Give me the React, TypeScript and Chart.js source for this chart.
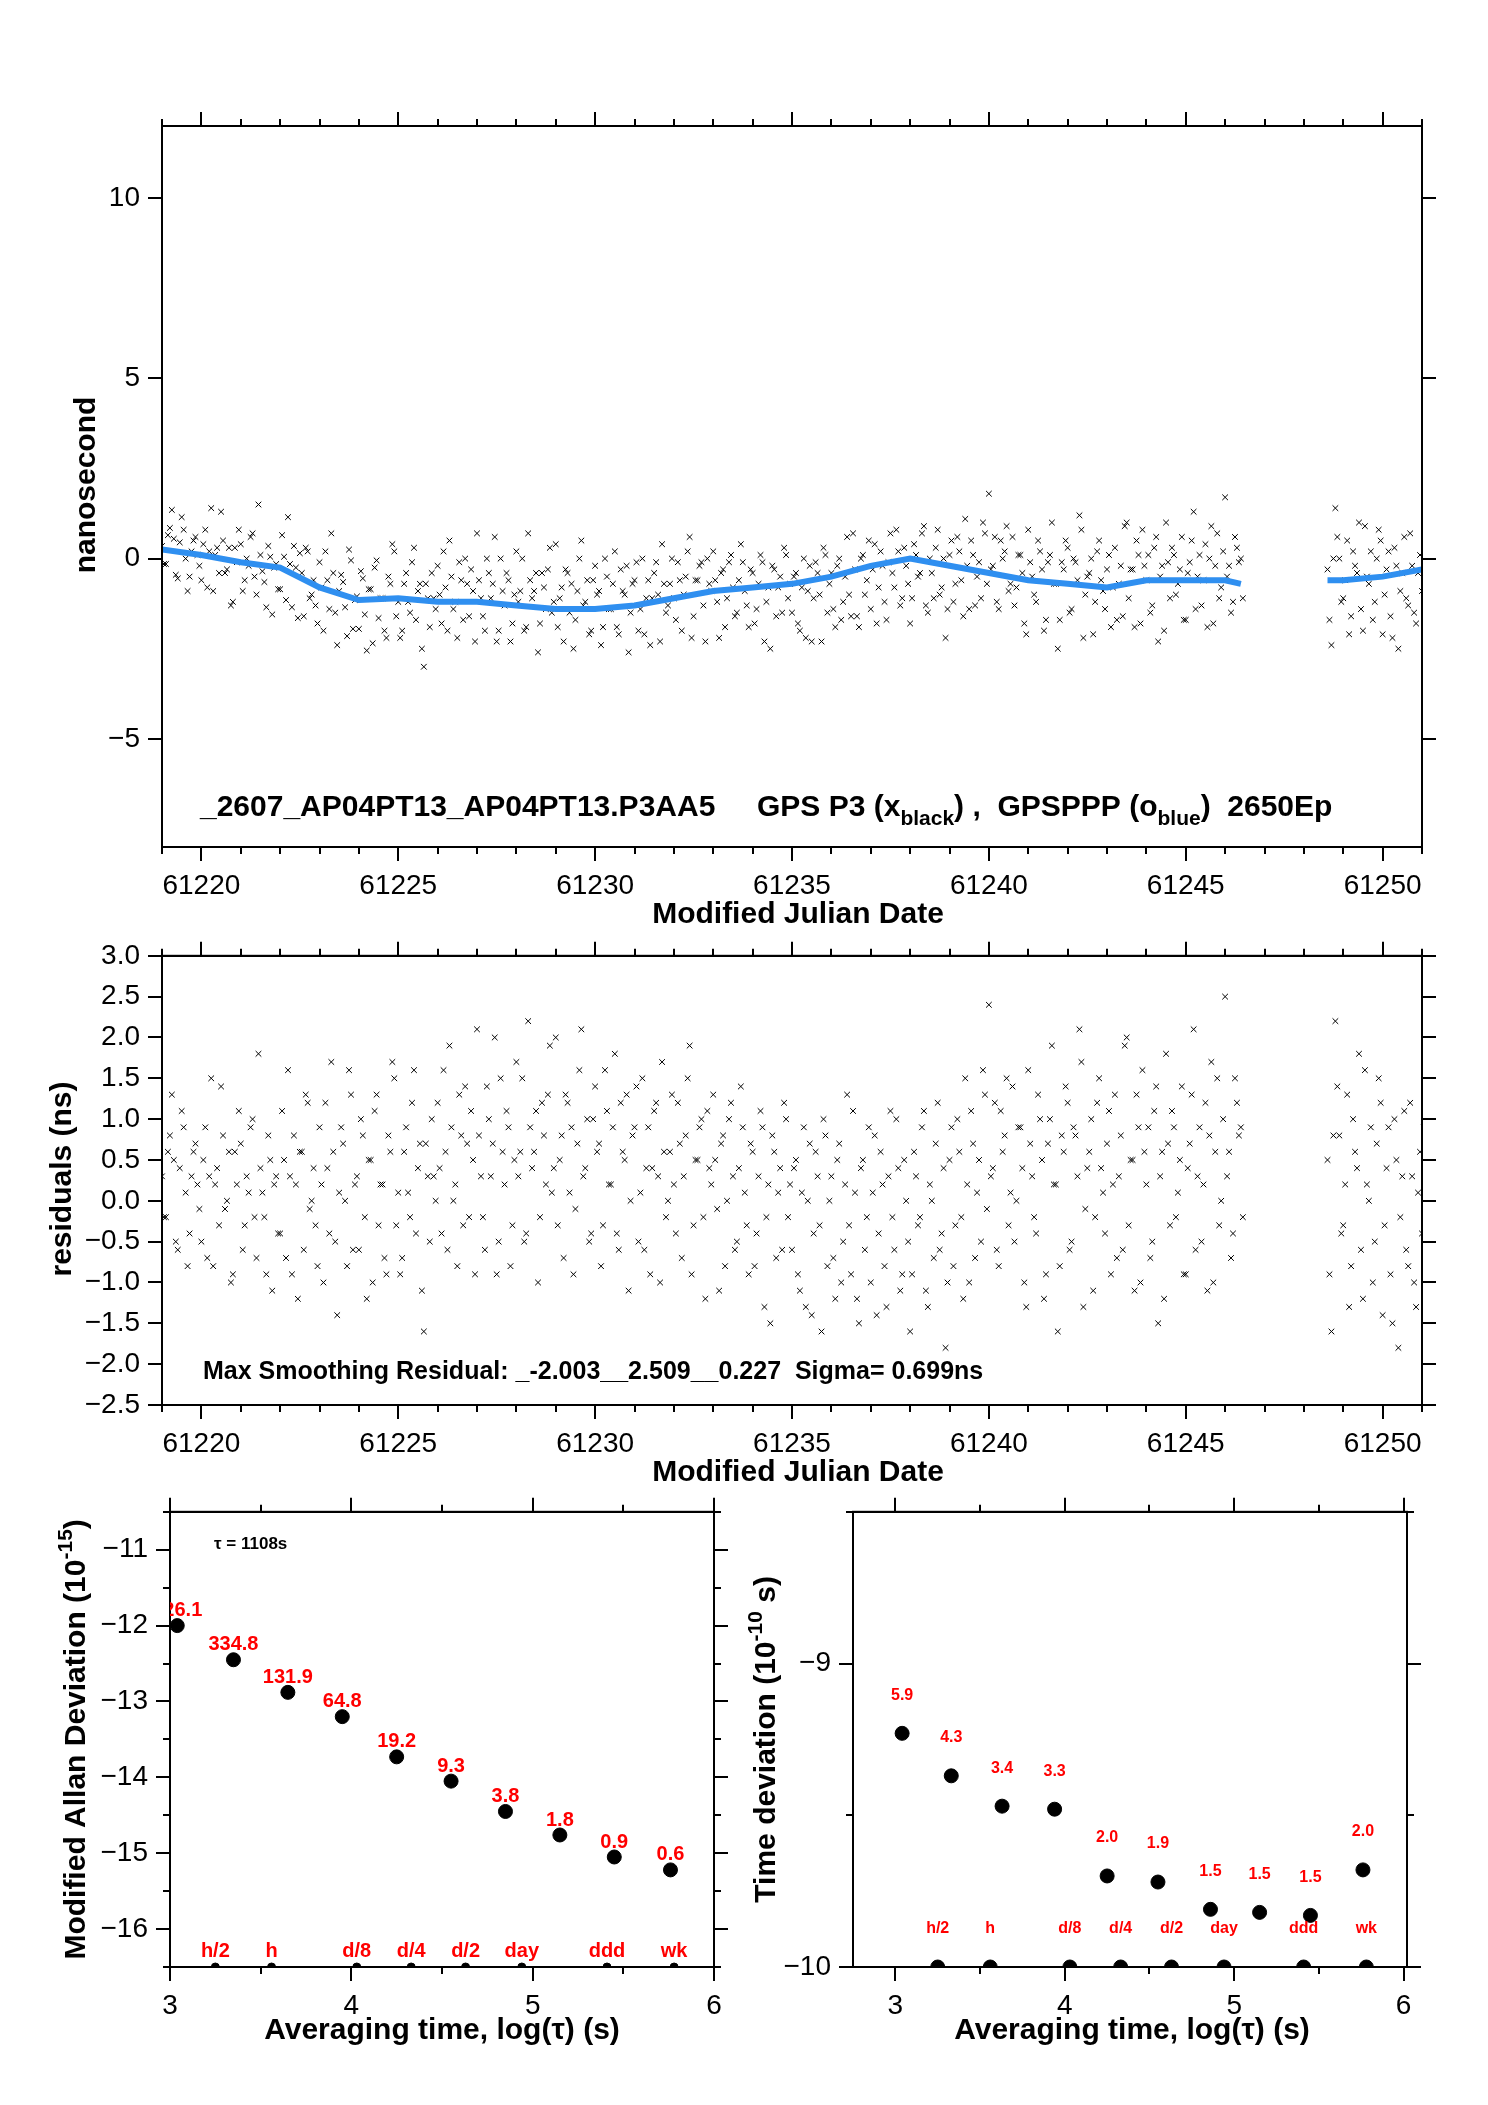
import React, { useEffect, useRef } from "react";
import { Chart, registerables } from "chart.js";
Chart.register(...registerables);

const FONT = "'Liberation Sans', Arial, sans-serif";

// Smoothed (blue) curve: daily knots
const blueDays = [61219,61220,61221,61222,61223,61224,61225,61226,61227,61228,61229,61230,61231,61232,61233,61234,61235,61236,61237,61238,61239,61240,61241,61242,61243,61244,61245,61246,61246.4,null,61248.6,61249,61250,61251];
const blueVals = [0.25,0.1,-0.1,-0.25,-0.8,-1.15,-1.1,-1.2,-1.2,-1.3,-1.4,-1.4,-1.3,-1.1,-0.9,-0.8,-0.7,-0.5,-0.2,0.0,-0.2,-0.4,-0.6,-0.7,-0.8,-0.6,-0.6,-0.6,-0.7,null,-0.6,-0.6,-0.5,-0.3];

// Residuals, segment 1 every 0.1 day from 61219.0
const residA = [
0.3,-0.2,0.8,0.5,-0.6,1.1,0.1,-0.4,0.6,0.2,
-0.5,0.9,0.3,-0.8,0.4,1.4,-0.1,0.6,-0.9,0.2,
0.7,-0.3,0.1,1.0,-0.7,0.4,-0.2,0.8,-1.1,0.3,
-0.4,0.5,1.6,-0.9,0.2,0.6,-0.6,1.2,0.0,-0.3,
0.9,-1.0,0.4,1.7,-0.5,0.1,0.7,-0.8,1.3,0.2,
-0.6,0.8,-1.2,0.5,1.1,-0.3,0.2,-0.9,0.6,1.5,
0.1,-0.7,0.9,-0.2,1.6,0.4,-1.1,0.7,-0.5,0.3,
1.2,-0.4,0.6,1.9,0.0,-0.8,0.8,1.4,-0.2,0.5,
2.1,0.3,-0.6,1.0,0.7,-0.9,1.5,0.2,0.9,-0.3,
1.7,0.6,-0.5,2.2,0.4,1.1,-0.2,0.8,1.3,0.1,
2.0,0.5,-0.7,1.2,0.9,-0.1,1.6,0.3,1.0,-0.4,
1.4,0.7,-0.3,1.1,0.2,1.8,-0.6,0.6,1.3,0.0,
0.9,-0.5,1.5,0.4,-0.9,1.1,0.3,1.7,-0.2,0.6,
0.2,1.2,-0.7,0.8,1.9,-0.3,0.5,1.0,-1.2,0.4,
1.3,-0.1,0.7,-0.8,1.0,0.3,-0.5,1.4,0.1,-0.9,
0.6,-0.4,1.1,-1.3,0.2,0.8,-0.7,0.4,1.2,-0.2,
-0.6,0.5,-1.1,0.9,0.0,-1.4,0.6,-0.3,1.0,-0.8,
0.3,-1.2,0.7,-0.5,1.3,-0.9,0.1,-1.5,0.5,-0.2,
-1.0,0.8,-0.4,0.2,-1.3,1.1,-0.6,0.4,-0.9,0.0,
-1.6,0.6,-0.3,0.9,-1.1,0.2,-0.7,1.2,-0.4,-1.8,
0.5,-0.8,1.0,-0.2,1.5,-1.0,0.7,0.1,-0.5,1.3,
2.4,0.4,-0.6,1.1,0.8,-0.3,1.4,0.0,0.9,-1.0,
1.6,0.3,-0.4,1.0,-1.2,0.7,1.9,0.2,-0.8,0.6,
1.2,-0.5,0.8,2.1,-1.3,0.4,1.0,-0.2,1.5,0.1,
0.7,-0.9,1.3,0.3,-0.6,2.0,0.5,-1.1,0.9,1.6,
0.2,-0.7,1.1,-1.5,0.6,1.8,-0.3,0.9,0.1,1.4,
-0.9,0.7,2.1,0.3,-0.5,1.2,0.8,-1.0,1.5,0.0,
2.5,0.6,-0.4,1.2,0.9];
// Residuals, segment 1 every 0.1 day from 61219.05
const residC = [
-0.2,0.6,1.3,-0.5,0.4,0.9,-0.8,0.3,0.7,-0.1,
0.5,-0.7,1.5,0.2,-0.3,0.8,0.0,-1.0,0.6,1.1,
-0.6,0.3,0.9,-0.2,1.8,0.1,-0.9,0.5,0.2,-0.4,
1.1,-0.7,0.3,0.8,-1.2,0.6,1.3,-0.1,0.4,-0.8,
0.2,1.2,-0.4,0.6,-1.4,0.9,0.0,1.6,-0.6,0.3,
1.0,-0.2,0.5,-1.0,1.3,0.2,-0.7,0.8,1.7,-0.3,
-0.9,0.6,0.1,1.2,-0.4,0.7,-1.6,0.3,1.0,0.0,
0.4,1.6,-0.6,0.9,0.2,1.3,-0.3,0.7,1.1,-0.9,
0.8,-0.2,1.4,0.3,2.0,-0.5,0.6,1.1,-0.8,0.5,
0.3,1.5,-0.4,0.9,0.6,-1.0,1.2,0.2,1.9,0.4,
-0.3,0.8,1.3,0.1,-0.9,0.7,2.1,0.4,-0.5,1.0,
0.6,-0.8,1.6,0.2,0.9,-0.4,1.2,0.5,-1.1,0.8,
1.4,0.1,-0.6,0.9,0.4,1.2,-1.0,0.6,0.0,1.3,
-0.4,0.7,0.3,1.5,-0.9,0.5,0.9,-0.2,1.1,0.2,
0.5,-1.1,0.8,0.0,1.2,-0.6,0.4,0.9,-0.3,0.7,
-0.8,0.3,0.9,-0.2,-1.5,0.6,0.1,-0.6,1.0,0.2,
0.4,-0.9,0.1,-1.3,0.7,-0.4,0.3,-1.6,0.8,0.0,
-0.7,0.5,-1.0,0.2,-0.3,1.1,-1.2,0.4,-0.6,0.9,
0.1,-1.4,0.6,-0.8,0.3,-0.2,1.0,-1.1,0.5,-0.5,
-0.9,0.3,-0.2,1.1,-1.3,0.0,0.7,-0.6,0.4,-1.0,
0.9,-0.3,0.6,-1.2,0.2,1.1,-0.7,0.5,1.6,-0.1,
0.3,1.2,-0.8,0.6,1.5,0.1,-0.5,0.9,0.4,-1.3,
0.7,-0.2,1.3,0.5,-0.9,1.0,0.2,-1.6,0.8,1.4,
-0.6,0.9,0.3,1.7,-0.1,0.6,-1.1,1.2,0.4,-0.4,
1.1,0.2,-0.7,0.8,1.9,-0.3,0.5,1.3,-1.0,0.6,
0.9,-0.5,1.4,0.3,-1.2,0.7,1.1,-0.2,0.5,-0.9,
0.4,1.3,-0.6,0.9,0.2,-1.1,1.7,0.6,-0.3,1.0,
0.3,-0.7,1.5,0.8,-0.2];
// Segment 2 every 0.1 day from 61248.6 (and 61248.65)
const residB = [0.5,-1.6,2.2,0.8,-0.3,1.3,-0.8,0.6,1.8,-1.2,0.2,0.9,-0.5,1.5,-1.4,0.4,-0.9,1.0,-1.8,0.3,-0.6,1.2,-1.0,0.1,-0.4];
const residD = [-0.9,0.8,1.4,-0.4,0.2,-1.3,1.0,0.4,-0.6,1.6,0.0,-1.0,0.7,1.2,-0.3,0.9,-1.5,0.5,-0.2,1.1,-0.8,0.3,-1.3,0.6,0.9];

const mjdMajor = [61220,61225,61230,61235,61240,61245,61250];
const mjdMinor = [61219,61221,61222,61223,61224,61226,61227,61228,61229,61231,61232,61233,61234,61236,61237,61238,61239,61241,61242,61243,61244,61246,61247,61248,61249,61251];

// Allan deviation
const adevX = [3.04,3.35,3.65,3.95,4.25,4.55,4.85,5.15,5.45,5.76];
const adevY = [-12.0,-12.45,-12.88,-13.2,-13.73,-14.05,-14.45,-14.76,-15.05,-15.22];
const adevLbl = ["526.1","334.8","131.9","64.8","19.2","9.3","3.8","1.8","0.9","0.6"];
// Time deviation
const tdevX = [3.04,3.33,3.63,3.94,4.25,4.55,4.86,5.15,5.45,5.76];
const tdevY = [-9.23,-9.37,-9.47,-9.48,-9.70,-9.72,-9.81,-9.82,-9.83,-9.68];
const tdevLbl = ["5.9","4.3","3.4","3.3","2.0","1.9","1.5","1.5","1.5","2.0"];
// Reference intervals
const refX = [3.25,3.56,4.03,4.33,4.63,4.94,5.41,5.78];
const refLbl = ["h/2","h","d/8","d/4","d/2","day","ddd","wk"];

type Part = { t: string; sub?: boolean; sup?: boolean };
function drawRich(ctx: CanvasRenderingContext2D, parts: Part[], x: number, y: number, size: number, rot = 0, center = false) {
  ctx.save();
  ctx.translate(x, y);
  ctx.rotate(rot);
  ctx.textBaseline = "alphabetic";
  ctx.textAlign = "left";
  ctx.fillStyle = "#000";
  const fonts = parts.map(p => `bold ${p.sub || p.sup ? Math.round(size * 0.7) : size}px ${FONT}`);
  let total = 0;
  parts.forEach((p, i) => { ctx.font = fonts[i]; total += ctx.measureText(p.t).width; });
  let cx = center ? -total / 2 : 0;
  parts.forEach((p, i) => {
    ctx.font = fonts[i];
    const dy = p.sub ? size * 0.3 : p.sup ? -size * 0.45 : 0;
    ctx.fillText(p.t, cx, dy);
    cx += ctx.measureText(p.t).width;
  });
  ctx.restore();
}

const fit = (w?: number, h?: number) => (s: any) => { if (w !== undefined) s.width = w; if (h !== undefined) s.height = h; };
const minus = (v: any) => String(v).replace("-", "\u2212");
const setTicks = (vals: number[]) => (s: any) => { s.ticks = vals.map(v => ({ value: v })); };

function ax(min: number, max: number, pos: string, majors: number[], size: number, fmt: ((v: number) => string) | null) {
  return {
    type: "linear", position: pos, min, max,
    grid: { display: false, drawTicks: false },
    border: { display: true, color: "#000", width: 2 },
    afterBuildTicks: setTicks(majors),
    ticks: fmt ? { display: true, color: "#000", font: { family: FONT, size: 28 }, padding: 22, maxRotation: 0, callback: (v: number) => fmt(v) } : { display: false },
    afterFit: pos === "left" || pos === "right" ? fit(size) : fit(undefined, size),
  };
}

function ticksPlugin(xMaj: number[], xMin: number[], yMaj: number[], yMin: number[]) {
  return { id: "tk", afterDraw: (c: any) => {
    const ctx = c.ctx, a = c.chartArea, sx = c.scales.x, sy = c.scales.y;
    ctx.save(); ctx.strokeStyle = "#000"; ctx.lineWidth = 2;
    ctx.strokeRect(a.left, a.top, a.right - a.left, a.bottom - a.top);
    ctx.beginPath();
    const xs = (vals: number[], L: number) => vals.forEach(v => { const p = Math.round(sx.getPixelForValue(v)); ctx.moveTo(p, a.top); ctx.lineTo(p, a.top - L); ctx.moveTo(p, a.bottom); ctx.lineTo(p, a.bottom + L); });
    const ys = (vals: number[], L: number) => vals.forEach(v => { const p = Math.round(sy.getPixelForValue(v)); ctx.moveTo(a.left, p); ctx.lineTo(a.left - L, p); ctx.moveTo(a.right, p); ctx.lineTo(a.right + L, p); });
    xs(xMaj, 14); xs(xMin, 7); ys(yMaj, 14); ys(yMin, 7);
    ctx.stroke(); ctx.restore();
  } };
}

function useChart(ref: React.RefObject<HTMLCanvasElement>, cfg: () => any) {
  useEffect(() => {
    const c = new Chart(ref.current!, cfg());
    return () => c.destroy();
  }, []);
}

const tA = residA.map((_, i) => 61219 + i * 0.1);
const tC = residC.map((_, i) => 61219.05 + i * 0.1);
const tB = residB.map((_, i) => 61248.6 + i * 0.1);
const tD = residD.map((_, i) => 61248.65 + i * 0.1);
function blueAt(t: number) {
  let best = 0, bd = 1e9;
  blueDays.forEach((d, i) => { if (d !== null && Math.abs(d - t) < bd) { bd = Math.abs(d - t); best = i; } });
  return blueVals[best] as number;
}
const allT = [...tA, ...tC, ...tB, ...tD];
const allR = [...residA, ...residC, ...residB, ...residD];

const baseOpts = { animation: false, responsive: false, layout: { padding: 0 },
  plugins: { legend: { display: false }, tooltip: { enabled: false } } };
const xSet = { pointStyle: "crossRot", radius: 4, borderColor: "#000", borderWidth: 1 };

function TopChart() {
  const ref = useRef<HTMLCanvasElement>(null);
  useChart(ref, () => ({
    type: "scatter",
    data: { datasets: [
      { data: allT.map((t, i) => ({ x: t, y: blueAt(t) + allR[i] - 0.2 })), ...xSet, order: 2 },
      { type: "line", data: blueDays.map((d, i) => ({ x: d, y: blueVals[i] })), borderColor: "#2f8ff0", borderWidth: 6, pointRadius: 0, spanGaps: false, order: 1 },
    ] },
    options: { ...baseOpts, scales: {
      x: ax(61219, 61251, "bottom", mjdMajor, 93, v => String(v)),
      x2: ax(61219, 61251, "top", mjdMajor, 46, null),
      y: ax(-8, 12, "left", [-5, 0, 5, 10], 162, v => minus(v)),
      y2: ax(-8, 12, "right", [-5, 0, 5, 10], 66, null),
    } },
    plugins: [ticksPlugin(mjdMajor, mjdMinor, [-5, 0, 5, 10], []), { id: "t", afterDraw: (c: any) => {
      const ctx = c.ctx;
      drawRich(ctx, [{ t: "_2607_AP04PT13_AP04PT13.P3AA5     GPS P3 (x" }, { t: "black", sub: true }, { t: ") ,  GPSPPP (o" }, { t: "blue", sub: true }, { t: ")  2650Ep" }], 200, 736, 30);
      drawRich(ctx, [{ t: "nanosecond" }], 95, 405, 30, -Math.PI / 2, true);
      drawRich(ctx, [{ t: "Modified Julian Date" }], 798, 843, 30, 0, true);
    } }],
  }));
  return <canvas ref={ref} width={1488} height={860} style={{ position: "absolute", left: 0, top: 80 }} />;
}

function MidChart() {
  const ref = useRef<HTMLCanvasElement>(null);
  const yT = [-2.5,-2,-1.5,-1,-0.5,0,0.5,1,1.5,2,2.5,3];
  useChart(ref, () => ({
    type: "scatter",
    data: { datasets: [
      { data: allT.map((t, i) => ({ x: t, y: allR[i] })), ...xSet },
    ] },
    options: { ...baseOpts, scales: {
      x: ax(61219, 61251, "bottom", mjdMajor, 92, v => String(v)),
      x2: ax(61219, 61251, "top", mjdMajor, 23, null),
      y: ax(-2.5, 3.0, "left", yT, 162, v => minus(v.toFixed(1))),
      y2: ax(-2.5, 3.0, "right", yT, 66, null),
    } },
    plugins: [ticksPlugin(mjdMajor, mjdMinor, yT, []), { id: "t", afterDraw: (c: any) => {
      const ctx = c.ctx;
      drawRich(ctx, [{ t: "Max Smoothing Residual: _-2.003__2.509__0.227  Sigma= 0.699ns" }], 203, 462, 25);
      drawRich(ctx, [{ t: "residuals (ns)" }], 71, 262, 30, -Math.PI / 2, true);
      drawRich(ctx, [{ t: "Modified Julian Date" }], 798, 564, 30, 0, true);
    } }],
  }));
  return <canvas ref={ref} width={1488} height={580} style={{ position: "absolute", left: 0, top: 917 }} />;
}

function labelPlugin(xs: number[], ys: number[], lbls: string[], refY: number, lblFont: number, ptOff: number, refOff: number, title: Part[], titleX: number, xTitleX: number, extra?: (c: any) => void) {
  return { id: "lbl", afterDraw: (c: any) => {
    const ctx = c.ctx, sx = c.scales.x, sy = c.scales.y, a = c.chartArea;
    ctx.save();
    ctx.beginPath(); ctx.rect(a.left, a.top, a.right - a.left, a.bottom - a.top); ctx.clip();
    ctx.fillStyle = "#ff0000"; ctx.textAlign = "center"; ctx.textBaseline = "bottom";
    ctx.font = `bold ${lblFont}px ${FONT}`;
    xs.forEach((x, i) => ctx.fillText(lbls[i], sx.getPixelForValue(x), sy.getPixelForValue(ys[i]) - ptOff));
    refX.forEach((x, i) => ctx.fillText(refLbl[i], sx.getPixelForValue(x), sy.getPixelForValue(refY) - refOff));
    ctx.restore();
    drawRich(ctx, title, titleX, (a.top + a.bottom) / 2, 30, -Math.PI / 2, true);
    drawRich(ctx, [{ t: "Averaging time, log(\u03c4) (s)" }], xTitleX, 566, 30, 0, true);
    if (extra) extra(c);
  } };
}

function AdevChart() {
  const ref = useRef<HTMLCanvasElement>(null);
  const yT = [-16, -15, -14, -13, -12, -11];
  useChart(ref, () => ({
    type: "scatter",
    data: { datasets: [
      { data: adevX.map((x, i) => ({ x, y: adevY[i] })), radius: 7, backgroundColor: "#000", borderColor: "#000" },
      { data: refX.map(x => ({ x, y: -16.5 })), radius: 4, backgroundColor: "#000", borderColor: "#000" },
    ] },
    options: { ...baseOpts, scales: {
      x: ax(3, 6, "bottom", [3, 4, 5, 6], 113, v => String(v)),
      x2: ax(3, 6, "top", [3, 4, 5, 6], 8, null),
      y: ax(-16.5, -10.5, "left", yT, 170, v => minus(v)),
      y2: ax(-16.5, -10.5, "right", yT, 30, null),
    } },
    plugins: [ticksPlugin([3, 4, 5, 6], [3.5, 4.5, 5.5], yT, [-16.5, -15.5, -14.5, -13.5, -12.5, -11.5, -10.5]),
      labelPlugin(adevX, adevY, adevLbl, -16.5, 20, 5, 6,
      [{ t: "Modified Allan Deviation (10" }, { t: "-15", sup: true }, { t: ")" }], 85, 442,
      (c: any) => { const ctx = c.ctx; ctx.save(); ctx.fillStyle = "#000"; ctx.font = `bold 17px ${FONT}`; ctx.textBaseline = "middle"; ctx.textAlign = "left"; ctx.fillText("\u03c4 = 1108s", 214, 71); ctx.restore(); })],
  }));
  return <canvas ref={ref} width={744} height={607} style={{ position: "absolute", left: 0, top: 1473 }} />;
}

function TdevChart() {
  const ref = useRef<HTMLCanvasElement>(null);
  useChart(ref, () => ({
    type: "scatter",
    data: { datasets: [
      { data: tdevX.map((x, i) => ({ x, y: tdevY[i] })), radius: 7, backgroundColor: "#000", borderColor: "#000" },
      { data: refX.map(x => ({ x, y: -10 })), radius: 7, backgroundColor: "#000", borderColor: "#000" },
    ] },
    options: { ...baseOpts, scales: {
      x: ax(2.75, 6.02, "bottom", [3, 4, 5, 6], 113, v => String(v)),
      x2: ax(2.75, 6.02, "top", [3, 4, 5, 6], 8, null),
      y: ax(-10, -8.5, "left", [-10, -9], 109, v => minus(v)),
      y2: ax(-10, -8.5, "right", [-10, -9], 81, null),
    } },
    plugins: [ticksPlugin([3, 4, 5, 6], [3.5, 4.5, 5.5], [-10, -9], [-9.5, -8.5]),
      labelPlugin(tdevX, tdevY, tdevLbl, -10, 16, 30, 30,
      [{ t: "Time deviation (10" }, { t: "-10", sup: true }, { t: " s)" }], 31, 388)],
  }));
  return <canvas ref={ref} width={744} height={607} style={{ position: "absolute", left: 744, top: 1473 }} />;
}

export default function App() {
  return (
    <div style={{ position: "absolute", left: 0, top: 0, width: 1488, height: 2105, background: "#fff" }}>
      <TopChart />
      <MidChart />
      <AdevChart />
      <TdevChart />
    </div>
  );
}
